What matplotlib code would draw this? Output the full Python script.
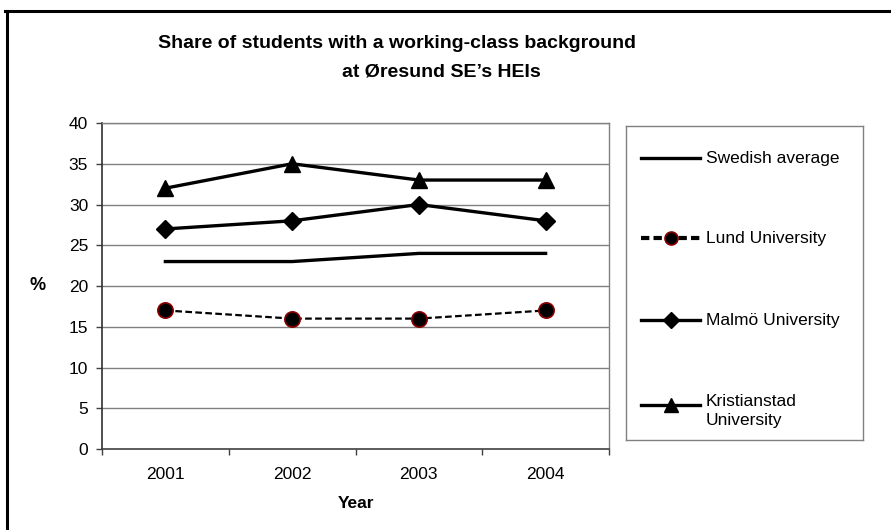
import matplotlib
matplotlib.use("Agg")
import matplotlib.pyplot as plt
from matplotlib.lines import Line2D

plt.rcParams['font.family'] = ['Liberation Sans', 'DejaVu Sans']

years = ["2001", "2002", "2003", "2004"]
swedish_avg = [23, 23, 24, 24]
lund = [17, 16, 16, 17]
malmo = [27, 28, 30, 28]
kristianstad = [32, 35, 33, 33]
series_labels = ["Swedish average", "Lund University", "Malmö University", "Kristianstad\nUniversity"]
yticks = [0, 5, 10, 15, 20, 25, 30, 35, 40]

W, H = 891, 530
fig = plt.figure(figsize=(W / 100, H / 100), dpi=100)

def fx(px):
    return px / W

def fy(py):
    return 1 - py / H

# outer frame (left and top edges visible)
fig.add_artist(Line2D([fx(6.5), fx(6.5)], [fy(11), fy(540)], transform=fig.transFigure, color='black', lw=2.2))
fig.add_artist(Line2D([fx(5.4), fx(900)], [fy(11), fy(11)], transform=fig.transFigure, color='black', lw=2.2))

ax = fig.add_axes([fx(102), fy(449), fx(609) - fx(102), fy(123) - fy(449)])

styles = [
    dict(color='black', lw=2.4, ls='-', marker=None),
    dict(color='black', lw=1.6, ls=(0, (3, 1.5)), marker='o', ms=11, mfc='black', mec='#8b0000', mew=1.2),
    dict(color='black', lw=2.4, ls='-', marker='D', ms=9, mfc='black', mec='black'),
    dict(color='black', lw=2.4, ls='-', marker='^', ms=11.5, mfc='black', mec='black'),
]
data = [swedish_avg, lund, malmo, kristianstad]
x = list(range(len(years)))
for vals, st in zip(data, styles):
    ax.plot(x, vals, zorder=3, clip_on=False, **st)

TICK_FS = 12.5
ax.set_xlim(-0.5, len(years) - 0.5)
ax.set_ylim(0, 40)
ax.set_yticks(yticks)
ax.set_yticklabels([str(v) for v in yticks], fontsize=TICK_FS)
ax.set_xticks(x)
ax.set_xticklabels(years, fontsize=TICK_FS)
ax.set_xticks([i - 0.5 for i in range(len(years) + 1)], minor=True)
ax.tick_params(axis='x', which='major', length=0, pad=13)
ax.tick_params(axis='x', which='minor', length=4, width=1, color='#404040', direction='out')
ax.tick_params(axis='y', which='major', length=4, width=1, color='#404040', direction='out', pad=6)

for v in yticks[1:]:
    ax.axhline(v, color='#808080', lw=1, zorder=1)

for s in ['top', 'right']:
    ax.spines[s].set_color('#808080')
    ax.spines[s].set_linewidth(1)
ax.spines['left'].set_color('#303030')
ax.spines['bottom'].set_color('#404040')
ax.spines['left'].set_linewidth(1.2)
ax.spines['bottom'].set_linewidth(1.2)

fig.text(fx(38), fy(285), "%", fontsize=13, fontweight='bold', ha='center', va='center')
fig.text(fx(356), fy(503), "Year", fontsize=12.5, fontweight='bold', ha='center', va='center')

fig.text(fx(397), fy(43), "Share of students with a working-class background", fontsize=14, fontweight='bold', ha='center', va='center')
fig.text(fx(441), fy(72), "at Øresund SE’s HEIs", fontsize=14, fontweight='bold', ha='center', va='center')

# legend box
lax = fig.add_axes([fx(626), fy(440), fx(863) - fx(626), fy(126) - fy(440)])
lax.set_xlim(626, 863)
lax.set_ylim(440, 126)
lax.set_xticks([])
lax.set_yticks([])
for s in lax.spines.values():
    s.set_color('#808080')
    s.set_linewidth(1)
leg_y = [158, 238, 320, 405]
leg_text_y = [158, 238, 320, 411]
for st, ly, ty, lab in zip(styles, leg_y, leg_text_y, series_labels):
    lst = dict(st)
    if lst.get('ls') != '-':
        lst['ls'] = (0, (2, 1))
        lst['lw'] = 3
    lax.plot([641, 700], [ly, ly], **{k: v for k, v in lst.items() if k not in ('marker', 'ms', 'mfc', 'mec', 'mew')})
    if st.get('marker'):
        lax.plot([670.5], [ly], ls='none', marker=st['marker'], ms=st['ms'] * 0.85,
                 mfc=st['mfc'], mec=st['mec'], mew=st.get('mew', 1))
    lax.text(706, ty, lab, fontsize=TICK_FS, ha='left', va='center', linespacing=1.35)

fig.savefig("out.png", dpi=100)
